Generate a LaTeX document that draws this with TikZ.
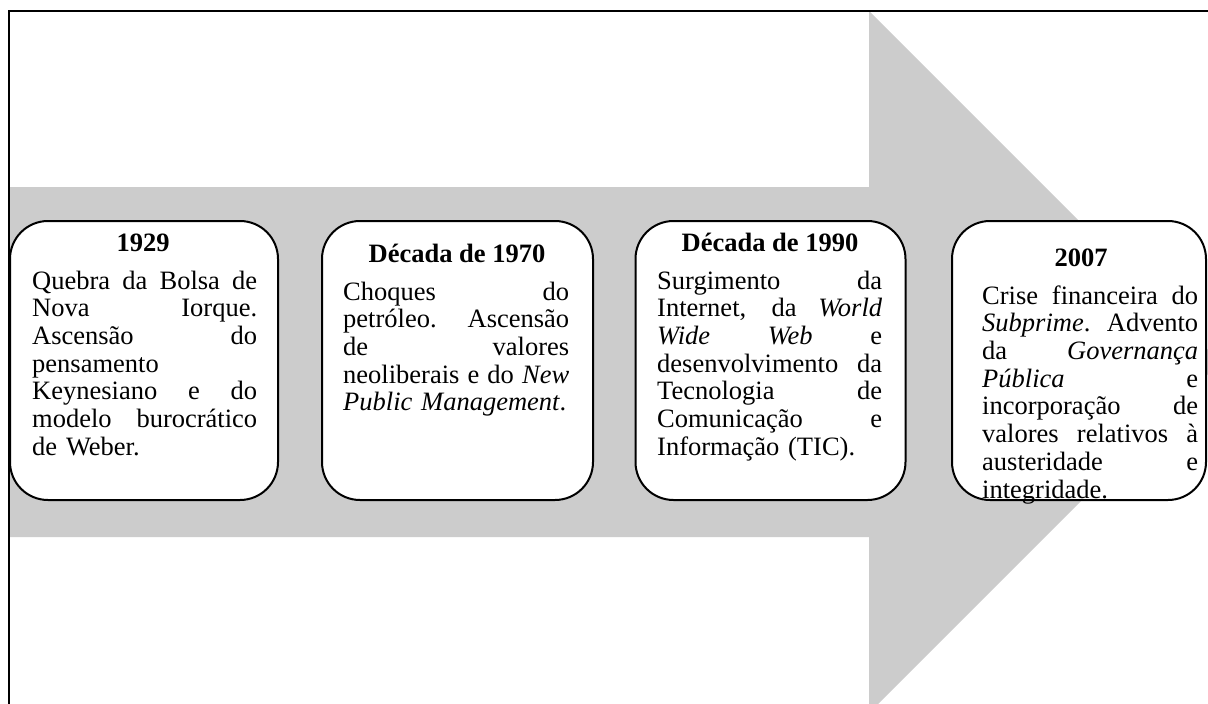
\documentclass[tikz,border=0pt]{standalone}
\usepackage{fontspec}
\setmainfont{Liberation Serif}
\definecolor{arrowgray}{HTML}{CCCCCC}
\tikzset{
  box/.style={draw=black, line width=2pt, fill=white, rounded corners=38pt, inner sep=0pt},
  ttl/.style={anchor=base, inner sep=0pt, font=\fontsize{26.5}{27.7}\selectfont\bfseries},
  body/.style={anchor=north west, inner sep=0pt, align=left, font=\fontsize{26.5}{27.7}\selectfont},
  frame/.style={draw=black, line width=2pt},
}
\newcommand\bw{225pt}
\newcommand\jl[1]{\leavevmode\hbox to \bw{\spaceskip=\fontdimen2\font plus 1fil\relax
  \xspaceskip=\fontdimen2\font plus 1fil\relax #1}}
\begin{document}
\begin{tikzpicture}[x=1pt, y=-1pt]
\useasboundingbox (0,0) rectangle (1208,704);
\clip (0,0) rectangle (1208,704);
\fill[white] (0,0) rectangle (1208,704);
% big arrow
\fill[arrowgray] (10,187) -- (869,187) -- (869,11) -- (1220,362) -- (869,713) -- (869,537) -- (10,537) -- cycle;
% frame
\coordinate (fbl) at (8.5,710);
\coordinate (ftl) at (8.5,11);
\coordinate (ftr) at (1215,11);
\draw[frame] (fbl) -- (ftl) -- (ftr);
% boxes
\node[box, minimum width=268pt, minimum height=279pt] (b1) at (144,360.5) {};
\node[box, minimum width=271pt, minimum height=279pt] (b2) at (457.5,360.5) {};
\node[box, minimum width=270pt, minimum height=279pt] (b3) at (770.5,360.5) {};
\node[box, minimum width=254pt, minimum height=279pt] (b4) at (1079,360.5) {};
% titles
\node[ttl] (t1) at (143,251) {1929};
\node[ttl] (t2) at (457,262) {Década de 1970};
\node[ttl] (t3) at (770,251) {Década de 1990};
\node[ttl] (t4) at (1081,266) {2007};
% bodies
\node[body, text width=225pt] (x1) at (32,269.6) {\renewcommand\bw{225pt}\noindent\strut\jl{Quebra da Bolsa de}\\
\jl{Nova Iorque.}\\
\jl{Ascensão do}\\
pensamento\\
\jl{Keynesiano e do}\\
\jl{modelo burocrático}\\
de Weber.};
\node[body, text width=226pt] (x2) at (343,280.6) {\renewcommand\bw{226pt}\noindent\strut\jl{Choques do}\\
\jl{petróleo. Ascensão}\\
\jl{de valores}\\
\jl{neoliberais e do \textit{New}}\\
\textit{Public Management}.};
\node[body, text width=225pt] (x3) at (657,269.6) {\renewcommand\bw{225pt}\noindent\strut\jl{Surgimento da}\\
\jl{Internet, da \textit{World}}\\
\jl{\textit{Wide Web} e}\\
\jl{desenvolvimento da}\\
\jl{Tecnologia de}\\
\jl{Comunicação e}\\
Informação (TIC).};
\node[body, text width=216pt] (x4) at (982,284.6) {\renewcommand\bw{216pt}\noindent\strut\jl{Crise financeira do}\\
\jl{\textit{Subprime}. Advento}\\
\jl{da \textit{Governança}}\\
\jl{\textit{Pública} e}\\
\jl{incorporação de}\\
\jl{valores relativos à}\\
\jl{austeridade e}\\
integridade.};
\end{tikzpicture}
\end{document}
